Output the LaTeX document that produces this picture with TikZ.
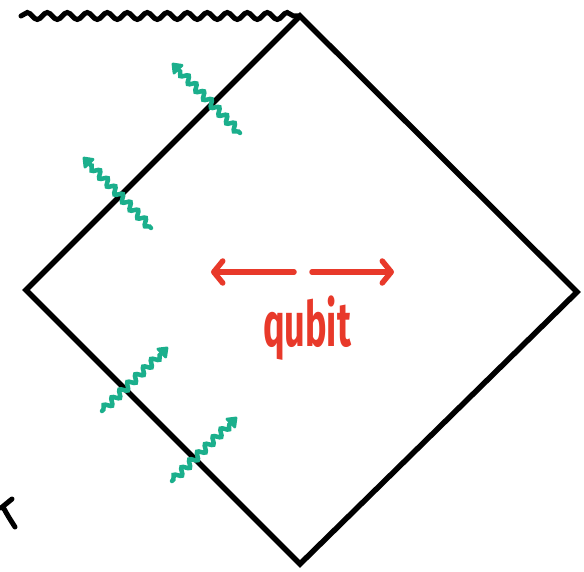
\documentclass[tikz,border=0pt]{standalone}
\usepackage{fontspec}
\setmainfont{Fira Sans}
\usetikzlibrary{decorations.pathmorphing,arrows.meta}
\definecolor{photon}{HTML}{1BAF8C}
\definecolor{qred}{HTML}{E8392A}
\begin{document}
\begin{tikzpicture}[x=1pt,y=-1pt,
  edge/.style={line width=5.5pt,line join=miter},
  sing/.style={line width=5pt,line cap=round,
    decorate,decoration={snake,amplitude=3.5pt,segment length=20pt}},
  radiation/.style={photon,line width=4.5pt,line cap=round,
    -{Triangle[length=11pt,width=16pt,round]},
    decorate,decoration={snake,amplitude=3.2pt,segment length=11pt,post length=9pt,pre length=2pt}},
  move/.style={qred,line width=5.5pt,line cap=round,
    -{Straight Barb[length=9pt,width=22pt,line cap=round,round]}}]
\useasboundingbox (0,0) rectangle (584,572);
% diamond corners
\coordinate (T) at (300,16);
\coordinate (L) at (26,290);
\coordinate (R) at (577,292);
\coordinate (B) at (300,564);
\coordinate (S) at (21,16);
% singularity
\draw[sing] (S) -- (T);
% diagram boundary
\draw[edge] (T) -- (R) -- (B) -- (L) -- cycle;
% outgoing radiation
\coordinate (o1a) at (240,133); \coordinate (o1b) at (172,63);
\coordinate (o2a) at (151,228); \coordinate (o2b) at (83,157);
\draw[radiation] (o1a) -- (o1b);
\draw[radiation] (o2a) -- (o2b);
% incoming radiation
\coordinate (i1a) at (102,411); \coordinate (i1b) at (168,347);
\coordinate (i2a) at (172,481); \coordinate (i2b) at (237,417);
\draw[radiation] (i1a) -- (i1b);
\draw[radiation] (i2a) -- (i2b);
% qubit
\coordinate (c1) at (294,272); \coordinate (cl) at (211,272);
\coordinate (c2) at (312,272); \coordinate (cr) at (394,272);
\draw[move] (c1) -- (cl);
\draw[move] (c2) -- (cr);
\node[text=qred,font=\fontsize{44}{48}\selectfont\bfseries,xscale=0.82,yscale=1.42] (q) at (307,328) {qubit};
% partial symbol at the left margin
\draw[line width=5pt,line cap=round] (12,499) -- (1,508);
\draw[line width=5pt,line cap=round] (3,507) .. controls (8,516) .. (15,527);
\end{tikzpicture}
\end{document}
